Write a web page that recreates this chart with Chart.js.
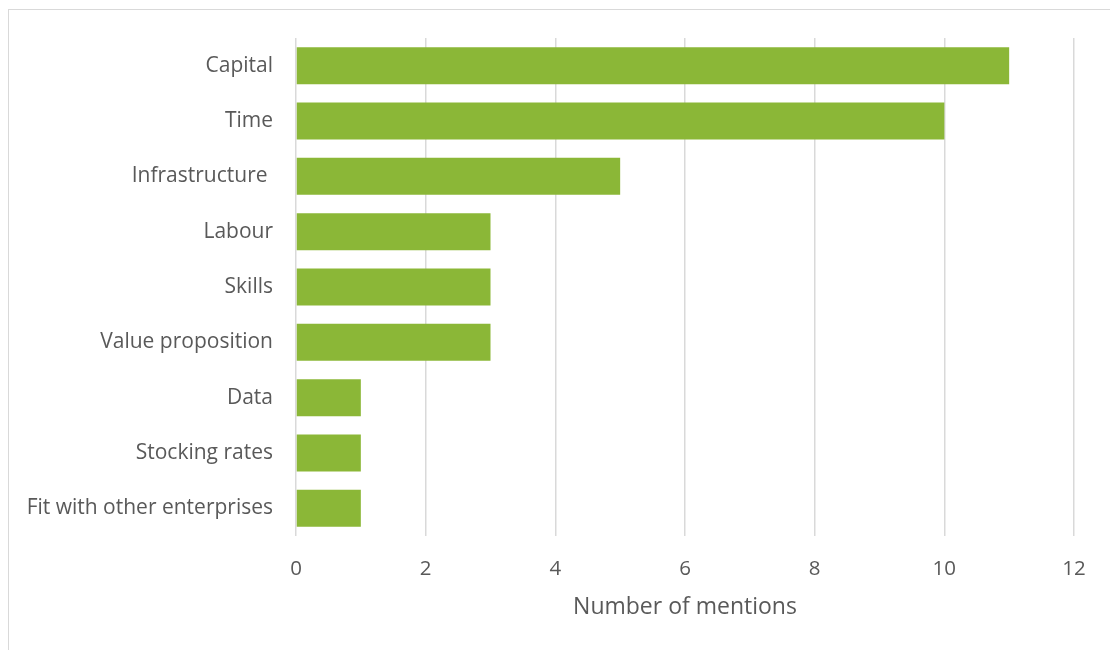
<!DOCTYPE html>
<html>
<head>
<meta charset="utf-8">
<script src="https://cdn.jsdelivr.net/npm/chart.js@4/dist/chart.umd.min.js"></script>
<style>
  html, body { margin: 0; padding: 0; background: #ffffff; }
  #wrap { position: relative; width: 1110px; height: 650px; overflow: hidden; }
  #frame { position: absolute; left: 8px; top: 9px; width: 1200px; height: 700px;
           border-left: 1.5px solid #d9d9d9; border-top: 1.5px solid #d9d9d9; }
  canvas { position: absolute; left: 0; top: 0; }
</style>
</head>
<body>
<div id="wrap">
  <div id="frame"></div>
  <canvas id="c" width="1110" height="650"></canvas>
</div>
<script>
const categories = ["Capital", "Time", "Infrastructure ", "Labour", "Skills", "Value proposition", "Data", "Stocking rates", "Fit with other enterprises"];
const mentions = [11, 10, 5, 3, 3, 3, 1, 1, 1];
const xTicks = [0, 2, 4, 6, 8, 10, 12];
const xTitle = "Number of mentions";

const textColor = '#595959';
const fontFamily = '"Open Sans", Lato, sans-serif';

new Chart(document.getElementById('c'), {
  type: 'bar',
  data: {
    labels: categories,
    datasets: [{
      data: mentions,
      backgroundColor: '#8BB737',
      borderWidth: 0,
      categoryPercentage: 1.0,
      barPercentage: 0.67
    }]
  },
  options: {
    indexAxis: 'y',
    responsive: false,
    animation: false,
    layout: { padding: { left: 0, right: 36, top: 38, bottom: 29 } },
    plugins: { legend: { display: false }, tooltip: { enabled: false } },
    scales: {
      x: {
        min: xTicks[0],
        max: xTicks[xTicks.length - 1],
        afterBuildTicks: (axis) => { axis.ticks = xTicks.map(v => ({ value: v })); },
        afterFit: (axis) => { axis.height = 85; },
        grid: { color: '#d9d9d9', lineWidth: 1.5, drawTicks: false },
        border: { display: false },
        ticks: { color: textColor, font: { family: fontFamily, size: 20.5 }, padding: 21 },
        title: { display: true, text: xTitle, color: textColor, font: { family: fontFamily, size: 23 }, padding: 0 }
      },
      y: {
        afterFit: (axis) => { axis.width = 296; },
        grid: { display: false, drawTicks: false },
        border: { display: false },
        ticks: { color: textColor, font: { family: fontFamily, size: 21 }, padding: 23 }
      }
    }
  }
});
</script>
</body>
</html>
